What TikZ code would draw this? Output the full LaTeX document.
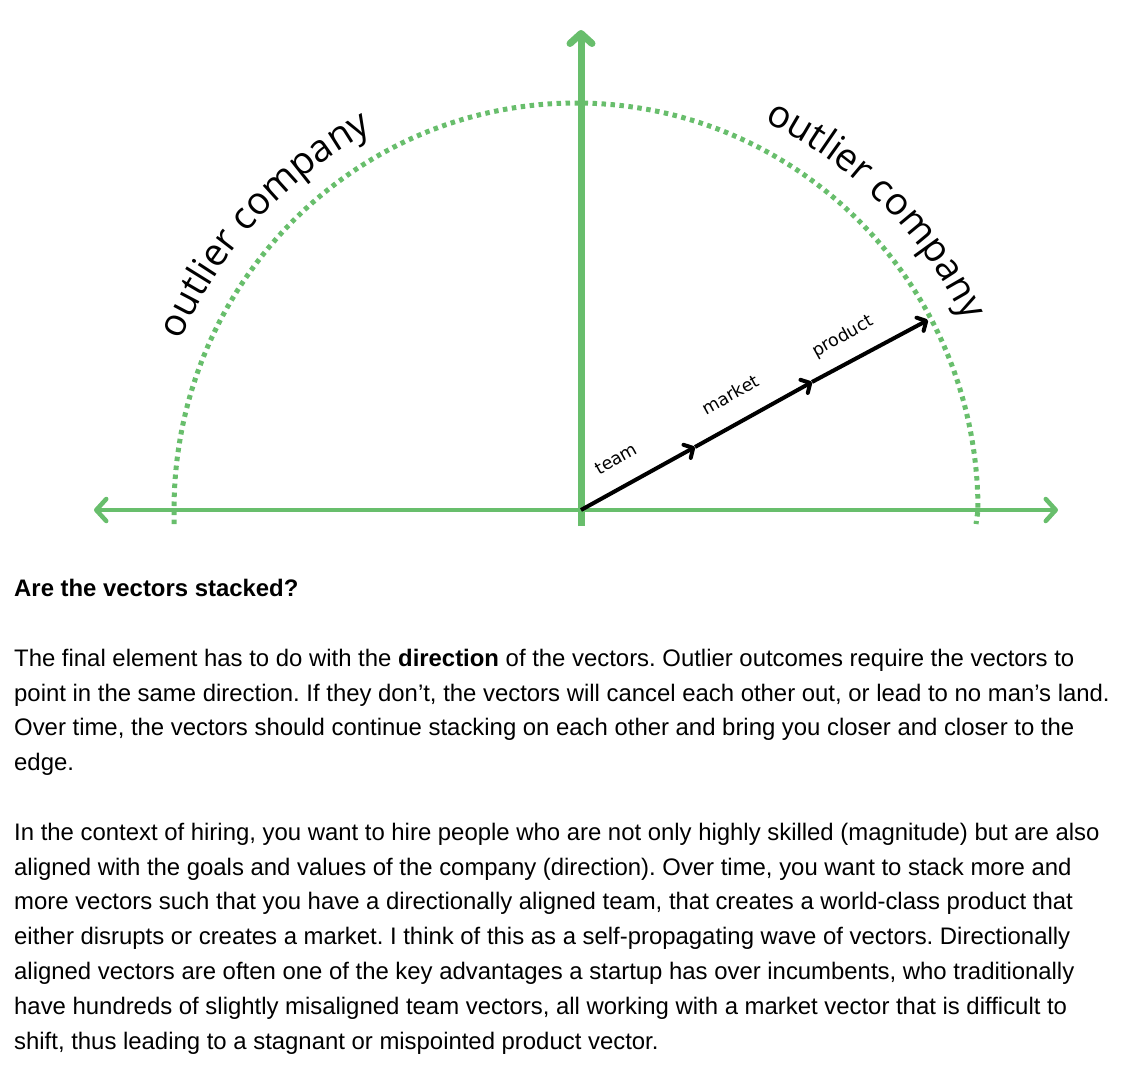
\documentclass[tikz,border=0pt]{standalone}
\usepackage{fontspec}
\setmainfont{Liberation Sans}
\newfontfamily\vecfont{DejaVu Sans}
\newfontfamily\arcfont{Open Sans}
\usetikzlibrary{arrows.meta,decorations.text}
\definecolor{gr}{RGB}{104,190,108}
\tikzset{
  tip/.style={-{Straight Barb[length=10pt,width=22pt,line cap=round,line join=round]}},
  vec/.style={draw=black,line width=4pt,-{Straight Barb[length=7pt,width=15pt,line cap=round,line join=round]}},
  veclab/.style={font=\vecfont\fontsize{17.5}{17.5}\selectfont,rotate=29,anchor=base west},
  bodyline/.style={font=\fontsize{23.9}{26}\selectfont,anchor=base west,inner sep=0pt},
  arclab/.style={decorate,decoration={text along path,text align=center,text format delimiters={|}{|}}}
}
\begin{document}
\frenchspacing
\begin{tikzpicture}[x=1pt,y=-1pt]
\useasboundingbox (0,0) rectangle (1138,1066);
\coordinate (o) at (581,510);
\coordinate (top) at (581,30);
\coordinate (bot) at (581,526);
\coordinate (le) at (94,510);
\coordinate (re) at (1058,510);
\coordinate (v1) at (695,447);
\coordinate (v2) at (812,382);
\coordinate (v3) at (928,320);
% dotted semicircle
\draw[gr,line width=5pt,dash pattern=on 4.5pt off 4.5pt] (174,524) -- (174,510) arc[start angle=180,end angle=360,x radius=402,y radius=407] -- (976,524);
% axes
\draw[draw=gr,line width=4.5pt,tip] (o) -- (le);
\draw[draw=gr,line width=4.5pt,tip] (o) -- (re);
\draw[draw=gr,line width=7pt,tip] (bot) -- (top);
% vectors
\draw[vec] (o) -- (v1);
\draw[vec] (v1) -- (v2);
\draw[vec] (v2) -- (v3);
\node[veclab] (tl) at (596,477) {team};
\node[veclab] (ml) at (703,417) {market};
\node[veclab] (pl) at (813,359) {product};
% arc labels
\path[arclab,decoration={text={|\arcfont\fontsize{38}{38}\selectfont|outlier company}}]
  (576,510) ++(-163:430) arc[start angle=-163,end angle=-112,radius=430];
\path[arclab,decoration={text={|\arcfont\fontsize{38}{38}\selectfont|outlier company}}]
  (576,510) ++(-69:432) arc[start angle=-69,end angle=-21,radius=432];
% body text
\node[bodyline,font=\bfseries\fontsize{23.9}{26}\selectfont] (h) at (14,596) {Are the vectors stacked?};
\node[bodyline] (a1) at (14,666) {The final element has to do with the \textbf{direction} of the vectors. Outlier outcomes require the vectors to};
\node[bodyline] (a2) at (14,701) {point in the same direction. If they don’t, the vectors will cancel each other out, or lead to no man’s land.};
\node[bodyline] (a3) at (14,735) {Over time, the vectors should continue stacking on each other and bring you closer and closer to the};
\node[bodyline] (a4) at (14,770) {edge.};
\node[bodyline] (b1) at (14,840) {In the context of hiring, you want to hire people who are not only highly skilled (magnitude) but are also};
\node[bodyline] (b2) at (14,875) {aligned with the goals and values of the company (direction). Over time, you want to stack more and};
\node[bodyline] (b3) at (14,909) {more vectors such that you have a directionally aligned team, that creates a world-class product that};
\node[bodyline] (b4) at (14,944) {either disrupts or creates a market. I think of this as a self-propagating wave of vectors. Directionally};
\node[bodyline] (b5) at (14,979) {aligned vectors are often one of the key advantages a startup has over incumbents, who traditionally};
\node[bodyline] (b6) at (14,1014) {have hundreds of slightly misaligned team vectors, all working with a market vector that is difficult to};
\node[bodyline] (b7) at (14,1049) {shift, thus leading to a stagnant or mispointed product vector.};
\end{tikzpicture}
\end{document}
